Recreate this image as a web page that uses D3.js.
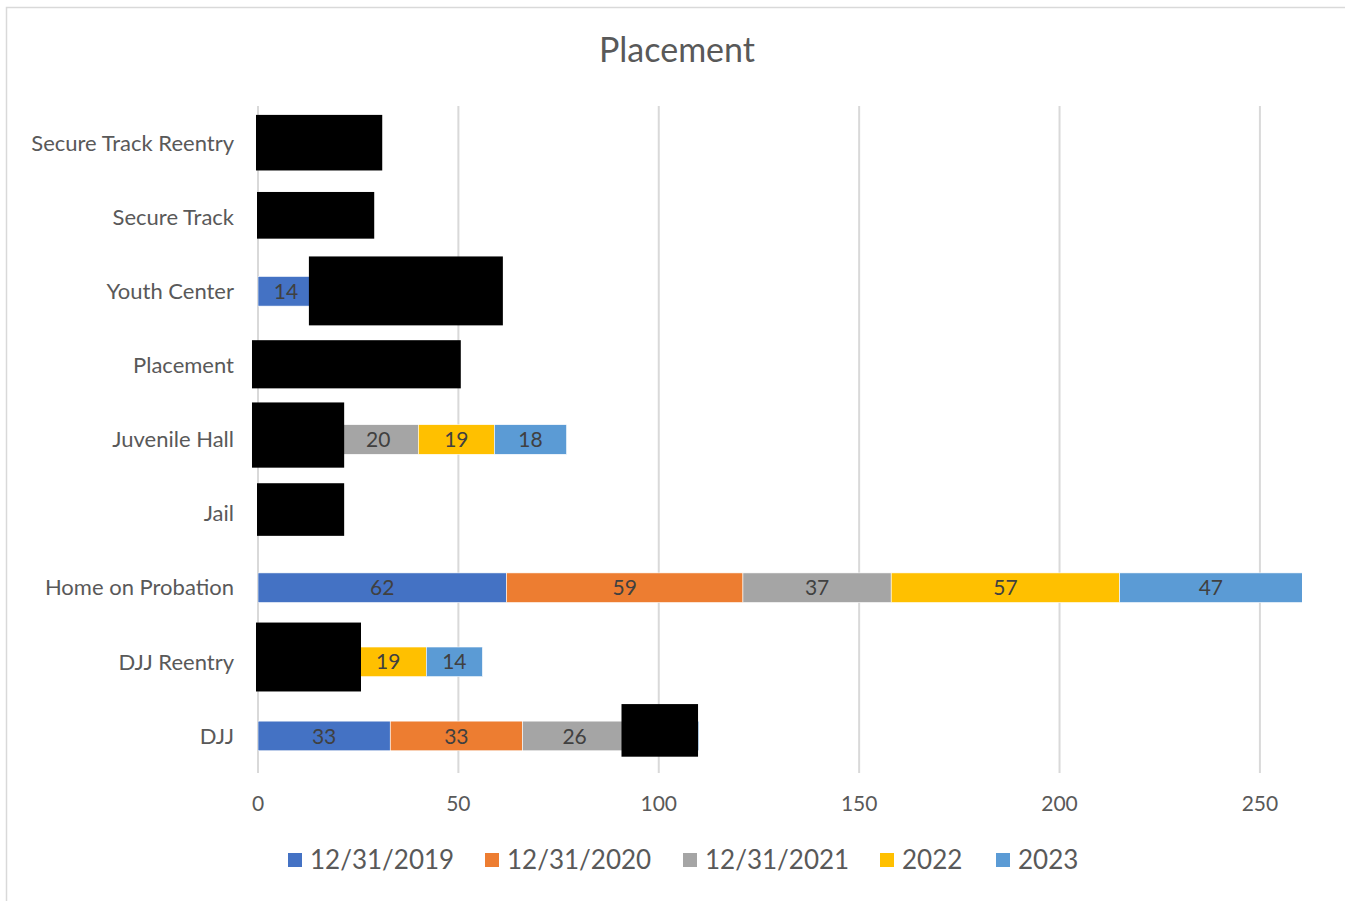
<!DOCTYPE html>
<html>
<head>
<meta charset="utf-8">
<script src="https://cdn.jsdelivr.net/npm/d3@7"></script>
<style>
  body { margin: 0; background: #fff; }
  text { font-family: Lato, "Open Sans", sans-serif; }
</style>
</head>
<body>
<svg id="chart"></svg>
<script>
// categories, top to bottom
const categories = ["Secure Track Reentry", "Secure Track", "Youth Center", "Placement",
  "Juvenile Hall", "Jail", "Home on Probation", "DJJ Reentry", "DJJ"];
const seriesNames = ["12/31/2019", "12/31/2020", "12/31/2021", "2022", "2023"];
// values per series (same order as categories); hidden ones are estimates
const v2019 = [8, 5, 14, 12, 11, 5, 62, 8, 33];
const v2020 = [5, 6, 12, 9, 9, 4, 59, 7, 33];
const v2021 = [6, 7, 10, 10, 20, 4, 37, 8, 26];
const v2022 = [7, 5, 11, 9, 19, 4, 57, 19, 9];
const v2023 = [4, 5, 12, 9, 18, 3, 47, 14, 9];
const xTicks = [0, 50, 100, 150, 200, 250];
// black boxes over the chart: category, value from/to, top/bottom as share of the row step
const redactions = [
  {cat: "Secure Track Reentry", x0: -0.5, x1: 31.0, t: -0.38, b: 0.37},
  {cat: "Secure Track", x0: -0.25, x1: 29.0, t: -0.34, b: 0.29},
  {cat: "Youth Center", x0: 12.7, x1: 61.1, t: -0.47, b: 0.46},
  {cat: "Placement", x0: -1.5, x1: 50.6, t: -0.34, b: 0.31},
  {cat: "Juvenile Hall", x0: -1.5, x1: 21.5, t: -0.5, b: 0.38},
  {cat: "Jail", x0: -0.25, x1: 21.5, t: -0.41, b: 0.3},
  {cat: "DJJ Reentry", x0: -0.5, x1: 25.7, t: -0.53, b: 0.4},
  {cat: "DJJ", x0: 90.7, x1: 109.8, t: -0.43, b: 0.28}
];

const colors = ["#4472C4", "#ED7D31", "#A5A5A5", "#FFC000", "#5B9BD5"];
const W = 1345, H = 901;
const margin = {top: 106, right: 43, bottom: 128, left: 258};

const svg = d3.select("#chart").attr("width", W).attr("height", H);

// chart border
svg.append("rect").attr("x", 6.5).attr("y", 7.5).attr("width", W).attr("height", H)
  .attr("fill", "#fff").attr("stroke", "#d9d9d9").attr("stroke-width", 1.5);

const x = d3.scaleLinear().domain([0, 260.5]).range([margin.left, W - margin.right]);
const y = d3.scaleBand().domain(categories).range([margin.top, H - margin.bottom])
  .paddingInner(0.6).paddingOuter(0.3);

const rows = categories.map((c, i) => ({
  cat: c, "12/31/2019": v2019[i], "12/31/2020": v2020[i], "12/31/2021": v2021[i],
  "2022": v2022[i], "2023": v2023[i]
}));
const stacked = d3.stack().keys(seriesNames)(rows);

// title
svg.append("text").attr("x", 677).attr("y", 62).attr("text-anchor", "middle")
  .attr("fill", "#595959").style("font-size", "34px").text("Placement");

// gridlines
svg.append("g").selectAll("line").data(xTicks).join("line")
  .attr("x1", d => x(d)).attr("x2", d => x(d))
  .attr("y1", margin.top).attr("y2", H - margin.bottom)
  .attr("stroke", "#d9d9d9").attr("stroke-width", 2);

// x tick labels
svg.append("g").selectAll("text").data(xTicks).join("text")
  .attr("x", d => x(d)).attr("y", 811).attr("text-anchor", "middle")
  .attr("fill", "#595959").style("font-size", "21px").text(d => d);

// category labels
svg.append("g").selectAll("text").data(categories).join("text")
  .attr("x", 234).attr("y", d => y(d) + y.bandwidth() / 2).attr("dy", "0.35em")
  .attr("text-anchor", "end").attr("fill", "#595959").style("font-size", "22px").text(d => d);

// bars
svg.append("clipPath").attr("id", "plotclip").append("rect")
  .attr("x", margin.left).attr("y", margin.top)
  .attr("width", W - margin.right - margin.left).attr("height", H - margin.bottom - margin.top);

const barG = svg.append("g").attr("clip-path", "url(#plotclip)");
stacked.forEach((s, si) => {
  const g = barG.append("g");
  g.selectAll("rect").data(s).join("rect")
    .attr("x", d => x(d[0])).attr("width", d => x(d[1]) - x(d[0]))
    .attr("y", d => y(d.data.cat)).attr("height", y.bandwidth())
    .attr("fill", colors[si]).attr("stroke", "#fff").attr("stroke-width", 0.6);
  g.selectAll("text").data(s).join("text")
    .attr("x", d => x((d[0] + Math.min(d[1], 260.5)) / 2))
    .attr("y", d => y(d.data.cat) + y.bandwidth() / 2).attr("dy", "0.36em")
    .attr("text-anchor", "middle").attr("fill", "#404040").style("font-size", "21px")
    .text(d => d[1] - d[0]);
});

// redaction boxes
const step = y.step();
svg.append("g").selectAll("rect").data(redactions).join("rect")
  .attr("x", d => x(d.x0)).attr("width", d => x(d.x1) - x(d.x0))
  .attr("y", d => y(d.cat) + y.bandwidth() / 2 + d.t * step)
  .attr("height", d => (d.b - d.t) * step)
  .attr("fill", "#000");

// legend
const legendX = [288, 485, 683, 880, 996];
const lg = svg.append("g").selectAll("g").data(seriesNames).join("g")
  .attr("transform", (d, i) => `translate(${legendX[i]},860)`);
lg.append("rect").attr("x", 0).attr("y", -7).attr("width", 14).attr("height", 14)
  .attr("fill", (d, i) => colors[i]);
lg.append("text").attr("x", 22).attr("y", 0).attr("dy", "0.36em")
  .attr("fill", "#595959").style("font-size", "26px").text(d => d);
</script>
</body>
</html>
